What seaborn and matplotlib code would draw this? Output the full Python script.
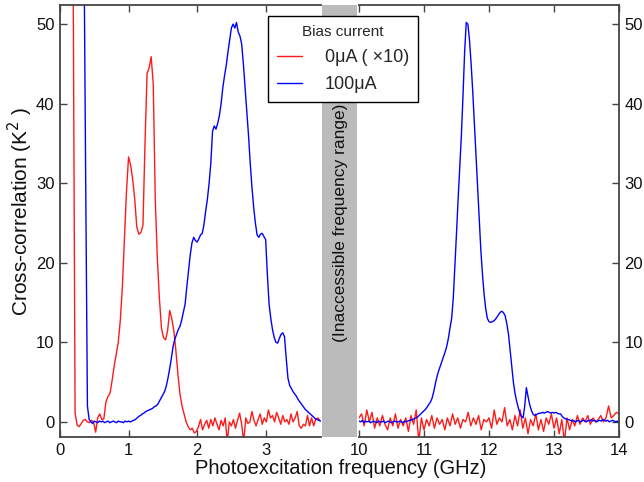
import numpy as np
import pandas as pd
import matplotlib
matplotlib.use("Agg")
import matplotlib.pyplot as plt
from matplotlib.patches import Rectangle
from matplotlib.lines import Line2D
import seaborn as sns

sns.set_style("ticks")
plt.rcParams['font.family'] = ['Liberation Sans', 'DejaVu Sans']

# ---------------- data ----------------
legend_title = "Bias current"
series_labels = ["0μA ( ×10)", "100μA"]
left_ticks = [0, 1, 2, 3]
right_ticks = [10, 11, 12, 13, 14]
y_ticks = [0, 10, 20, 30, 40, 50]

# red (0 uA, x10), low-frequency window; x = 0.19 + 0.03*i
red_left_y = [60, 1.1, -0.4, -0.6, -0.2, 0.2, 0.3, 0.0, -0.1, 0.2,
              0.0, -1.3, 0.5, 1.0, 0.3, 0.4, 2.5, 3.2, 3.6, 5.2,
              7.0, 8.5, 10.0, 12.8, 17.0, 23.0, 29.0, 33.3, 32.3, 30.5,
              28.0, 24.5, 23.6, 23.8, 24.7, 35.0, 43.8, 44.5, 45.9, 42.5,
              27.9, 20.5, 15.5, 11.8, 10.6, 10.3, 11.5, 14.0, 13.0, 11.5,
              9.0, 6.0, 3.5, 2.0, 1.0, 0.0, -0.6, -1.0, -0.8, -1.4,
              -1.2, -0.6, 0.3, -1.0, -0.3, 0.2, -0.8, 0.3, -0.5, 0.5,
              -0.3, -1.0, 0.2, -0.5, 0.5, -2.5, 0.0, -0.5, 0.3, -0.8,
              0.2, 1.1, -0.3, -2.5, 0.5, -0.2, 0.0, 1.3, 0.2, -0.5,
              0.3, 1.0, -0.3, 0.5, 0.0, 1.5, 0.5, 0.8, 0.0, 1.2,
              0.5, -0.3, 0.8, 0.0, 0.3, -0.3, 1.0, 0.0, 0.5, 1.3,
              -0.5, -0.8, -0.3, -0.5, 0.8, -0.5, 0.5, -0.5, 0.3, 0.5,
              0.2]

# blue (100 uA), low-frequency window; x = 0.35 + 0.025*i
blue_left_y = [60, 30, 2.0, 0.3, 0.0, -0.2, 0.1, 0.0, -0.1, 0.1,
               0.0, 0.1, -0.1, 0.0, 0.1, -0.1, 0.0, 0.1, 0.0, -0.1,
               0.1, 0.0, 0.0, -0.1, 0.1, 0.0, 0.1, 0.0, 0.1, 0.2,
               0.3, 0.5, 0.7, 0.8, 1.0, 1.1, 1.3, 1.4, 1.5, 1.6,
               1.7, 1.9, 2.0, 2.2, 2.6, 3.0, 3.4, 3.8, 4.5, 5.5,
               6.7, 8.0, 9.5, 10.4, 11.0, 11.6, 12.0, 12.8, 13.8, 14.8,
               17.0, 19.0, 21.0, 22.5, 23.2, 22.8, 22.6, 23.0, 23.5, 23.7,
               24.8, 26.5, 28.0, 30.0, 32.5, 36.5, 37.2, 36.8, 37.5, 38.5,
               40.0, 42.0, 43.5, 44.8, 46.5, 48.0, 49.5, 50.0, 49.5, 50.2,
               49.0, 48.5, 47.5, 45.0, 42.0, 39.0, 36.0, 32.5, 29.5, 27.0,
               25.0, 23.5, 23.2, 23.6, 23.7, 23.3, 22.9, 18.5, 14.8, 13.0,
               11.6, 10.6, 10.0, 9.9, 10.5, 11.0, 11.2, 10.7, 8.0, 5.5,
               4.6, 4.2, 3.8, 3.5, 3.2, 2.8, 2.5, 2.2, 1.9, 1.6,
               1.4, 1.2, 1.0, 0.8, 0.6, 0.4, 0.3, 0.2, 0.1]

# red (0 uA, x10), high-frequency window; x = 10.00 + 0.04*i
red_right_y = [0.5, 1.0, -0.5, 1.5, 0.0, 1.2, -0.8, 0.5, -0.5, 0.8,
               -0.3, -1.0, 0.5, -0.5, 1.0, -0.8, 0.3, -0.5, 0.5, -1.2,
               0.8, -0.3, 1.5, -2.5, 0.5, -1.0, 0.3, -0.5, 0.8, -0.8,
               0.5, -0.3, 0.3, -1.0, 0.5, -0.5, 1.0, -0.3, 0.5, -0.8,
               0.3, 0.0, 1.2, -0.5, 0.5, -0.3, 0.8, -1.0, 0.3, 0.0,
               0.5, -0.8, 1.5, -0.3, 0.5, 0.0, 1.8, -0.5, 0.3, -1.0,
               0.8, -0.5, 1.5, -0.8, 0.5, -1.5, 0.3, -0.5, 1.0, -1.0,
               0.3, -1.2, 0.5, -0.3, 1.0, -0.8, 0.5, -1.5, 0.3, -2.5,
               0.5, -1.0, 0.3, -0.5, 0.8, -0.3, 0.5, 0.0, 0.8, -0.3,
               0.5, 0.0, 0.3, 0.8, 0.0, 0.5, 2.0, 0.5, 0.8, 1.2,
               1.0]

# blue (100 uA), high-frequency window; x = 10.000 + 0.025*i
blue_right_y = [0.1, 0.0, 0.2, -0.1, 0.1, 0.0, 0.1, -0.1, 0.0, 0.1,
                0.0, -0.1, 0.1, 0.0, 0.0, 0.1, -0.1, 0.0, 0.1, 0.0,
                -0.1, 0.0, 0.1, 0.0, 0.0, 0.1, 0.0, -0.1, 0.1, 0.0,
                0.1, 0.2, 0.2, 0.3, 0.4, 0.5, 0.6, 0.8, 1.0, 1.2,
                1.4, 1.6, 1.9, 2.2, 2.5, 3.0, 3.8, 4.8, 5.7, 6.4,
                7.0, 7.6, 8.2, 8.8, 9.5, 10.5, 11.8, 13.0, 15.5, 19.5,
                23.7, 28.0, 32.0, 36.0, 41.0, 46.5, 50.2, 50.0, 48.0, 45.0,
                41.5, 37.5, 33.5, 29.5, 25.5, 21.5, 18.5, 16.0, 14.2, 13.0,
                12.6, 12.5, 12.6, 12.7, 12.9, 13.2, 13.5, 13.8, 13.9, 13.7,
                13.3, 12.3, 11.0, 9.0, 6.9, 5.0, 3.6, 2.6, 1.8, 1.1,
                0.7, 0.5, 2.0, 4.3, 3.2, 2.2, 1.5, 1.0, 0.8, 0.9,
                1.0, 1.1, 1.1, 1.2, 1.1, 1.2, 1.3, 1.2, 1.1, 1.2,
                1.1, 1.2, 1.1, 1.0, 1.0, 0.7, 0.5, 0.4, 0.3, 0.3,
                0.2, 0.1, 0.2, 0.0, 0.1, 0.2, 0.0, 0.1, 0.2, 0.1,
                0.0, 0.2, 0.1, 0.3, 0.1, 0.2, 0.0, 0.1, 0.2, 0.1,
                0.3, 0.2, 0.1, 0.2, 0.0, 0.1, 0.2, 0.1, 0.0, 0.1,
                0.0]

red_left_x = 0.19 + 0.03 * np.arange(len(red_left_y))
blue_left_x = 0.35 + 0.025 * np.arange(len(blue_left_y))
red_right_x = 10.0 + 0.04 * np.arange(len(red_right_y))
blue_right_x = 10.0 + 0.025 * np.arange(len(blue_right_y))

RED = "#ff1a1a"
BLUE = "#0000ff"
SPINE = "#444444"

fig = plt.figure(figsize=(6.44, 4.82), dpi=100)
W, H = 644, 482
y0 = (H - 437) / H
hh = 432 / H
axL = fig.add_axes([60 / W, y0, 260.5 / W, hh])
axR = fig.add_axes([359 / W, y0, 260 / W, hh])

for ax, rx, ry, bx, by in [(axL, red_left_x, red_left_y, blue_left_x, blue_left_y),
                           (axR, red_right_x, red_right_y, blue_right_x, blue_right_y)]:
    sns.lineplot(x=rx, y=ry, ax=ax, color=RED, lw=1.0, sort=False, estimator=None)
    sns.lineplot(x=bx, y=by, ax=ax, color=BLUE, lw=1.0, sort=False, estimator=None)
    ax.set_ylim(-1.9, 52.4)
    ax.set_yticks(y_ticks)
    ax.set_xlabel("")
    ax.set_ylabel("")
    for s in ax.spines.values():
        s.set_color(SPINE)
        s.set_linewidth(1.3)
    ax.tick_params(direction="in", length=5, width=1.0, color=SPINE,
                   labelsize=12, labelcolor="#111111", pad=4)

axL.set_xlim(0, 3.8)
axL.set_xticks(left_ticks)
axL.spines["right"].set_visible(False)
axL.tick_params(top=True, right=False, left=True)

axR.set_xlim(10, 14)
axR.set_xticks(right_ticks)
axR.spines["left"].set_visible(False)
axR.tick_params(top=True, right=True, left=False, labelleft=False, labelright=True)

# inaccessible band
fig.patches.append(Rectangle((322 / W, y0), 35 / W, hh, transform=fig.transFigure,
                             facecolor="#bbbbbb", edgecolor="none", zorder=0))
fig.text(340 / W, (H - 223) / H, "(Inaccessible frequency range)", rotation=90,
         ha="center", va="center", fontsize=12.5, color="#111111")

fig.text(341 / W, (H - 469) / H, "Photoexcitation frequency (GHz)",
         ha="center", va="center", fontsize=14.5, color="#111111")
fig.text(20 / W, (H - 211) / H, "Cross-correlation (K$^2$ )", rotation=90,
         ha="center", va="center", fontsize=15, color="#111111")

handles = [Line2D([], [], color=RED, lw=1.0), Line2D([], [], color=BLUE, lw=1.0)]
leg = fig.legend(handles, series_labels, title=legend_title,
                 loc="upper left", bbox_to_anchor=(268 / W, 1 - 16 / H),
                 bbox_transform=fig.transFigure, frameon=True, fancybox=False,
                 fontsize=13, title_fontsize=11, handlelength=1.4,
                 handletextpad=1.25, borderpad=0.5, labelspacing=0.55,
                 borderaxespad=0)
leg.get_frame().set_edgecolor("black")
leg.get_frame().set_linewidth(1.0)
leg.get_frame().set_alpha(1)

fig.savefig("out.png", dpi=100)
